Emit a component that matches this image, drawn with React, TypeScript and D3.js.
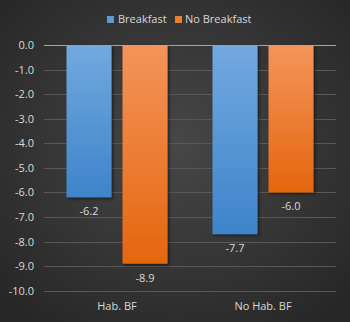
import React from "react";
import * as d3 from "d3";

const categories = ["Hab. BF", "No Hab. BF"];
const seriesNames = ["Breakfast", "No Breakfast"];
const breakfast = [-6.2, -7.7];
const noBreakfast = [-8.9, -6.0];
const yTicks = [0, -1, -2, -3, -4, -5, -6, -7, -8, -9, -10];

const W = 350;
const H = 322;
const margin = { left: 44, right: 14, top: 45, bottom: 31.3 };
const FONT = "'Open Sans', 'DejaVu Sans', sans-serif";
const TEXT = "#d9d9d9";

export default function App() {
  const x0 = d3
    .scaleBand<string>()
    .domain(categories)
    .range([margin.left, W - margin.right])
    .paddingInner(0)
    .paddingOuter(0);
  const y = d3
    .scaleLinear()
    .domain([0, -10])
    .range([margin.top, H - margin.bottom]);

  const bw = 45;
  const gap = 11;
  const series = [
    { name: seriesNames[0], values: breakfast, grad: "gBlue", sw: "#5b9bd5" },
    { name: seriesNames[1], values: noBreakfast, grad: "gOrange", sw: "#ed7d31" },
  ];
  const groupW = bw * 2 + gap;

  return (
    <svg
      width={W}
      height={H}
      style={{ position: "absolute", left: 0, top: 0, display: "block" }}
    >
      <defs>
        <radialGradient id="bg" cx="50%" cy="45%" r="70%">
          <stop offset="0%" stopColor="#474747" />
          <stop offset="100%" stopColor="#262626" />
        </radialGradient>
        <linearGradient id="gBlue" x1="0" y1="0" x2="0" y2="1">
          <stop offset="0%" stopColor="#72a9df" />
          <stop offset="100%" stopColor="#3e84ca" />
        </linearGradient>
        <linearGradient id="gOrange" x1="0" y1="0" x2="0" y2="1">
          <stop offset="0%" stopColor="#f4945a" />
          <stop offset="100%" stopColor="#e5660f" />
        </linearGradient>
        <filter id="sh" x="-20%" y="-20%" width="150%" height="150%">
          <feDropShadow dx="1.5" dy="1.5" stdDeviation="1.5" floodColor="#000" floodOpacity="0.55" />
        </filter>
      </defs>
      <rect x={0} y={0} width={W} height={H} fill="url(#bg)" />

      {/* gridlines */}
      {yTicks.map((t) => (
        <line
          key={"g" + t}
          x1={margin.left}
          x2={W - margin.right}
          y1={Math.round(y(t)) + 0.5}
          y2={Math.round(y(t)) + 0.5}
          stroke={t === 0 ? "#a6a6a6" : "#585858"}
          strokeWidth={1}
        />
      ))}

      {/* tick labels */}
      {yTicks.map((t) => (
        <text
          key={"t" + t}
          x={34}
          y={y(t)}
          dy="0.36em"
          textAnchor="end"
          fontFamily={FONT}
          fontSize={11}
          fill={TEXT}
        >
          {d3.format(".1f")(t).replace("−", "-")}
        </text>
      ))}

      {/* bars */}
      {categories.map((c, ci) => {
        const cx = (x0(c) as number) + x0.bandwidth() / 2;
        const start = cx - groupW / 2;
        return series.map((s, si) => {
          const v = s.values[ci];
          const bx = start + si * (bw + gap);
          const top = y(0);
          const bot = y(v);
          return (
            <g key={c + s.name}>
              <rect
                x={bx}
                y={top}
                width={bw}
                height={bot - top}
                fill={`url(#${s.grad})`}
                filter="url(#sh)"
              />
              <text
                x={bx + bw / 2}
                y={bot + 14}
                dy="0.36em"
                textAnchor="middle"
                fontFamily={FONT}
                fontSize={11}
                fill={TEXT}
              >
                {d3.format(".1f")(v).replace("−", "-")}
              </text>
            </g>
          );
        });
      })}

      {/* category labels */}
      {categories.map((c) => (
        <text
          key={"c" + c}
          x={(x0(c) as number) + x0.bandwidth() / 2}
          y={306.5}
          dy="0.36em"
          textAnchor="middle"
          fontFamily={FONT}
          fontSize={11}
          fill={TEXT}
        >
          {c}
        </text>
      ))}

      {/* legend */}
      <g>
        <rect x={107} y={16} width={7} height={7} fill={series[0].sw} />
        <text x={118} y={19.5} dy="0.36em" fontFamily={FONT} fontSize={11} fill={TEXT}>
          {seriesNames[0]}
        </text>
        <rect x={175} y={16} width={7} height={7} fill={series[1].sw} />
        <text x={185} y={19.5} dy="0.36em" fontFamily={FONT} fontSize={11} fill={TEXT}>
          {seriesNames[1]}
        </text>
      </g>
    </svg>
  );
}
